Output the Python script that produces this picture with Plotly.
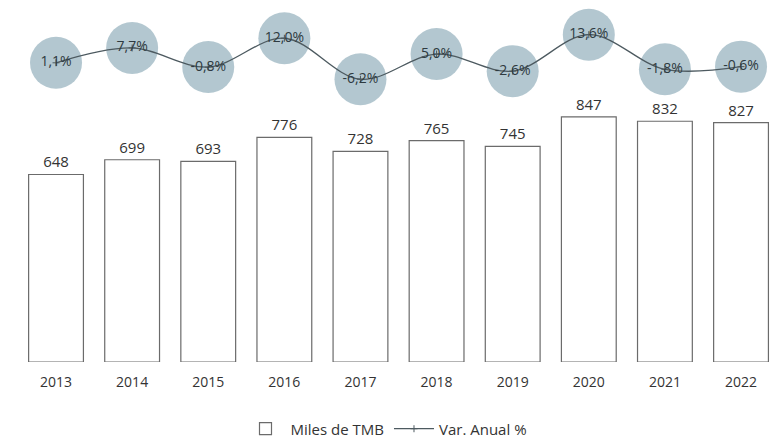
import plotly.graph_objects as go

years = ["2013", "2014", "2015", "2016", "2017", "2018", "2019", "2020", "2021", "2022"]
miles_tmb = [648, 699, 693, 776, 728, 765, 745, 847, 832, 827]
var_anual = [1.1, 7.7, -0.8, 12.0, -6.2, 5.0, -2.6, 13.6, -1.8, -0.6]
var_labels = ["1,1%", "7,7%", "-0,8%", "12,0%", "-6,2%", "5,0%", "-2,6%", "13,6%", "-1,8%", "-0,6%"]

FONT = "Open Sans"

fig = go.Figure()

fig.add_trace(go.Bar(
    x=years, y=miles_tmb, name="Miles de TMB",
    marker=dict(color="white", line=dict(color="#6b6b6b", width=1.2)),
    width=0.72,
    text=[str(v) for v in miles_tmb], textposition="outside",
    textfont=dict(family=FONT, size=15, color="#333333"),
    cliponaxis=False,
))

# circles behind the line
fig.add_trace(go.Scatter(
    x=years, y=var_anual, yaxis="y2", mode="markers",
    marker=dict(size=52, color="rgba(150,177,190,0.72)", line=dict(width=0)),
    showlegend=False, hoverinfo="skip",
))

fig.add_trace(go.Scatter(
    x=years, y=var_anual, yaxis="y2", mode="lines+markers", name="Var. Anual %",
    line=dict(color="#4d5a60", width=1.3, shape="spline"),
    marker=dict(size=5, symbol="cross-thin", color="#4d5a60", line=dict(width=1, color="#4d5a60")),
))

fig.add_trace(go.Scatter(
    x=years, y=var_anual, yaxis="y2", mode="text",
    text=var_labels, textposition="middle center",
    textfont=dict(family=FONT, size=14, color="#2e3a40"),
    showlegend=False, hoverinfo="skip",
))

fig.update_layout(
    width=773, height=446,
    margin=dict(l=0, r=0, t=0, b=81),
    paper_bgcolor="white", plot_bgcolor="white",
    font=dict(family=FONT, size=14, color="#333333"),
    xaxis=dict(type="category", range=[-0.736, 9.42], showgrid=False, showline=False,
               zeroline=False, ticks="", ticklabelstandoff=10,
               tickfont=dict(family=FONT, size=14, color="#333333")),
    yaxis=dict(range=[0, 1251], visible=False, showgrid=False, zeroline=False),
    yaxis2=dict(range=[-131.8, 29.0], overlaying="y", visible=False, showgrid=False, zeroline=False),
    legend=dict(orientation="h", x=0.5, xanchor="center", y=-0.185, yanchor="middle",
                itemwidth=40,
                font=dict(family=FONT, size=15, color="#333333"), traceorder="normal"),
    bargap=0.28,
    showlegend=True,
)

fig.write_html("out.html")
